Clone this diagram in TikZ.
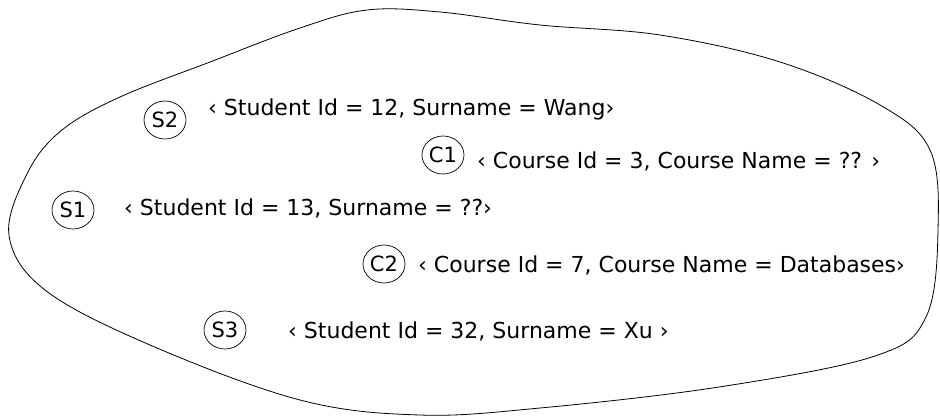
\documentclass[tikz,border=0pt]{standalone}
\usepackage{fontspec}
\setmainfont{DejaVu Sans}
\usetikzlibrary{shapes.geometric}
\tikzstyle{entity} = [ellipse, draw=black, line width=0.7pt, minimum width=42pt, minimum height=38pt, inner sep=0pt, font=\fontsize{21}{23}\selectfont]
\tikzstyle{tuple} = [anchor=base west, inner sep=0pt, font=\fontsize{22}{25}\selectfont]
\tikzstyle{blob} = [draw=black, line width=0.8pt]

\begin{document}
\begin{tikzpicture}[x=1pt,y=-1pt]
\useasboundingbox (0,0) rectangle (940,416);

% the set of objects
\draw [blob] plot [smooth cycle, tension=0.6] coordinates {
(9,235) (28,172) (62,130) (120,97) (210,62) (300,28) (367,10) (440,12)
(540,25) (660,35) (780,62) (880,105) (930,150) (938,230) (926,317)
(875,356) (719,387) (540,408) (420,415) (300,400) (150,345) (45,290)};

\node (s2) [entity] at (165,120) {S2};
\node (s2t) [tuple] at (208,115) {‹ Student Id = 12, Surname = Wang›};

\node (c1) [entity] at (443,155) {C1};
\node (c1t) [tuple] at (477,168) {‹ Course Id = 3, Course Name = ?? ›};

\node (s1) [entity] at (73,210) {S1};
\node (s1t) [tuple] at (124,215) {‹ Student Id = 13, Surname = ??›};

\node (c2) [entity] at (384,264) {C2};
\node (c2t) [tuple] at (418,272) {‹ Course Id = 7, Course Name = Databases›};

\node (s3) [entity] at (225,330) {S3};
\node (s3t) [tuple] at (288,338) {‹ Student Id = 32, Surname = Xu ›};

\end{tikzpicture}
\end{document}
